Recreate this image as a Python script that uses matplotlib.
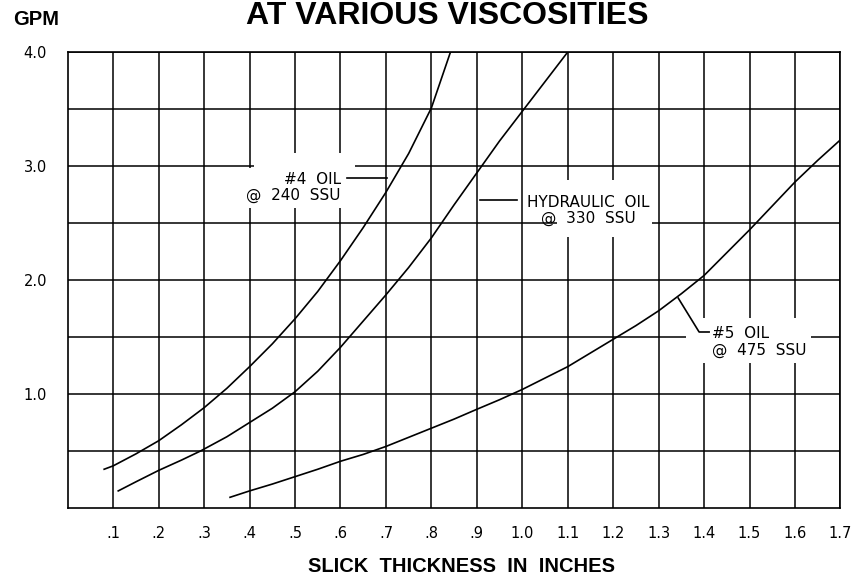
import matplotlib
matplotlib.use("Agg")
import matplotlib.pyplot as plt
from matplotlib.patches import Rectangle

# readings (slick thickness in inches, flow in GPM)
x_oil4 = [0.08, 0.10, 0.15, 0.20, 0.25, 0.30, 0.35, 0.40, 0.45, 0.50, 0.55,
          0.60, 0.65, 0.70, 0.75, 0.80, 0.842]
y_oil4 = [0.34, 0.37, 0.475, 0.59, 0.73, 0.88, 1.05, 1.24, 1.44, 1.66, 1.90,
          2.17, 2.46, 2.77, 3.11, 3.51, 4.00]

x_hyd = [0.111, 0.15, 0.20, 0.25, 0.292, 0.35, 0.40, 0.45, 0.50, 0.55, 0.60,
         0.65, 0.70, 0.75, 0.80, 0.85, 0.90, 0.95, 1.00, 1.05, 1.10]
y_hyd = [0.15, 0.23, 0.33, 0.42, 0.50, 0.625, 0.75, 0.875, 1.02, 1.20, 1.41,
         1.64, 1.87, 2.11, 2.37, 2.66, 2.94, 3.22, 3.48, 3.74, 4.00]

x_oil5 = [0.357, 0.40, 0.45, 0.50, 0.55, 0.60, 0.65, 0.70, 0.75, 0.80, 0.85,
          0.90, 0.95, 1.00, 1.05, 1.10, 1.15, 1.20, 1.25, 1.30, 1.35, 1.40,
          1.45, 1.50, 1.55, 1.60, 1.65, 1.70]
y_oil5 = [0.094, 0.15, 0.21, 0.275, 0.34, 0.41, 0.47, 0.54, 0.62, 0.70, 0.78,
          0.866, 0.95, 1.04, 1.14, 1.24, 1.36, 1.48, 1.60, 1.73, 1.88, 2.04,
          2.24, 2.44, 2.65, 2.86, 3.05, 3.23]

x_ticks = [0.1 * i for i in range(1, 18)]
x_labels = [".1", ".2", ".3", ".4", ".5", ".6", ".7", ".8", ".9",
            "1.0", "1.1", "1.2", "1.3", "1.4", "1.5", "1.6", "1.7"]
y_ticks = [1.0, 2.0, 3.0, 4.0]
y_labels = ["1.0", "2.0", "3.0", "4.0"]
y_minor = [0.5, 1.5, 2.5, 3.5]

fig = plt.figure(figsize=(8.57, 5.78), dpi=100)
ax = fig.add_axes([0.0791, 0.1211, 0.9016, 0.7889])
ax.set_xlim(0, 1.7)
ax.set_ylim(0, 4.0)

ax.set_xticks(x_ticks)
ax.set_xticklabels(x_labels, fontsize=10.5, family="DejaVu Sans")
ax.set_yticks(y_ticks)
ax.set_yticklabels(y_labels, fontsize=10.5, family="DejaVu Sans")
ax.set_yticks(y_minor, minor=True)
ax.tick_params(axis="both", which="both", length=0)
ax.tick_params(axis="x", pad=13)
ax.tick_params(axis="y", pad=15)

ax.set_axisbelow(True)
ax.grid(True, which="both", color="black", linewidth=1.1)
for s in ax.spines.values():
    s.set_linewidth(1.2)

# white patches where the labels break the grid
white = dict(facecolor="white", edgecolor="none", zorder=1)
ax.add_patch(Rectangle((0.392, 2.63), 0.24, 0.355, **white))
ax.add_patch(Rectangle((0.41, 2.63), 0.222, 0.48, **white))
ax.add_patch(Rectangle((1.0765, 2.377), 0.2095, 0.50, **white))
ax.add_patch(Rectangle((1.36, 1.272), 0.275, 0.395, **white))

# curves
kw = dict(color="black", linewidth=1.2, zorder=2)
ax.plot(x_oil4, y_oil4, **kw)
ax.plot(x_hyd, y_hyd, **kw)
ax.plot(x_oil5, y_oil5, **kw)

# leaders
ax.plot([0.614, 0.702], [2.895, 2.895], **kw)
ax.plot([0.906, 0.989], [2.70, 2.70], **kw)
ax.plot([1.343, 1.389, 1.411], [1.842, 1.544, 1.544], **kw)

tkw = dict(fontsize=11, family="DejaVu Sans", zorder=3, linespacing=1.1)
ax.text(0.601, 2.81, "#4  OIL\n@  240  SSU", ha="right", va="center", multialignment="right", **tkw)
ax.text(1.146, 2.61, "HYDRAULIC  OIL\n@  330  SSU", ha="center", va="center", multialignment="center", **tkw)
ax.text(1.418, 1.456, "#5  OIL\n@  475  SSU", ha="left", va="center", multialignment="left", **tkw)

fig.text(0.522, 0.9585, "AT VARIOUS VISCOSITIES", ha="center", va="baseline",
         fontsize=23, fontweight="bold", family="Liberation Sans")
fig.text(0.0152, 0.9567, "GPM", ha="left", va="baseline",
         fontsize=14.5, fontweight="bold", family="Liberation Sans")
fig.text(0.539, 0.011, "SLICK  THICKNESS  IN  INCHES", ha="center", va="baseline",
         fontsize=14.5, fontweight="bold", family="Liberation Sans")

fig.savefig("out.png", dpi=100)
